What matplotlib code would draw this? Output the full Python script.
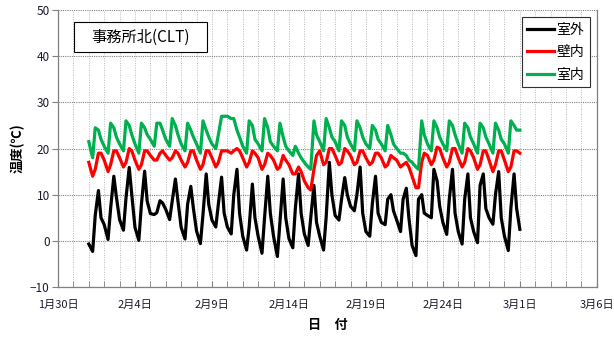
import matplotlib
matplotlib.use('Agg')
import matplotlib.pyplot as plt
from matplotlib.patches import Rectangle
import datetime as dt
import matplotlib.dates as mdates

plt.rcParams['font.family'] = ['Noto Sans CJK JP', 'DejaVu Sans']

# sample hours within each day
HOURS = [0, 6, 10, 15, 19]
START = dt.datetime(2019, 2, 1)

# outdoor temperature (室外), Feb 1 .. Feb 28, values at HOURS, then Mar 1 0h
outdoor = [
    [-0.7, -2.3, 5.5, 10.9, 5.0],
    [3.5, 0.3, 7.0, 14.0, 9.5],
    [4.6, 2.3, 9.3, 15.9, 10.0],
    [2.9, 0.1, 7.9, 15.1, 8.6],
    [5.9, 5.7, 6.1, 8.7, 8.2],
    [6.8, 4.6, 8.6, 13.4, 8.6],
    [2.9, 0.4, 7.9, 11.8, 7.1],
    [2.1, -0.6, 5.7, 14.5, 7.9],
    [4.5, 3.0, 8.0, 13.8, 6.0],
    [3.0, 1.5, 10.0, 15.5, 6.0],
    [1.0, -2.0, 3.0, 12.3, 5.0],
    [1.0, -2.7, 5.0, 14.0, 6.0],
    [1.0, -3.4, 4.0, 13.4, 5.0],
    [0.5, -1.5, 7.0, 14.5, 6.0],
    [1.5, -1.0, 5.0, 12.0, 4.0],
    [1.0, -2.0, 5.0, 17.0, 10.0],
    [5.5, 4.5, 9.0, 13.7, 10.0],
    [7.5, 6.5, 10.0, 16.0, 6.0],
    [2.0, 1.0, 8.0, 14.0, 6.0],
    [4.0, 3.5, 9.0, 10.0, 6.5],
    [4.5, 2.0, 9.0, 11.4, 5.0],
    [-1.0, -3.2, 9.0, 10.0, 6.0],
    [5.5, 5.0, 15.5, 13.0, 7.5],
    [4.0, 1.4, 9.0, 15.5, 6.0],
    [2.0, -0.7, 9.0, 14.5, 5.0],
    [2.0, -0.4, 12.0, 14.5, 7.0],
    [5.0, 3.6, 10.0, 15.0, 5.0],
    [1.0, -2.1, 7.0, 14.5, 7.0],
]
outdoor_end = 2.5

# wall temperature (壁内)
wall = [
    [17.0, 14.0, 15.5, 19.0, 19.0],
    [17.5, 15.0, 16.5, 19.5, 19.5],
    [18.0, 16.0, 17.0, 20.0, 19.5],
    [17.5, 15.5, 16.5, 19.5, 19.5],
    [18.5, 17.5, 17.5, 19.0, 19.5],
    [18.5, 17.5, 18.0, 19.5, 19.0],
    [17.5, 16.0, 17.0, 19.5, 19.5],
    [17.5, 15.5, 16.5, 19.5, 19.5],
    [18.0, 16.0, 17.0, 19.5, 19.5],
    [19.5, 19.0, 19.5, 20.0, 19.5],
    [18.0, 16.0, 17.0, 19.5, 19.0],
    [18.0, 15.5, 16.5, 19.0, 18.5],
    [17.5, 15.5, 16.0, 18.5, 17.5],
    [16.5, 14.5, 14.5, 16.0, 15.0],
    [13.0, 11.5, 11.0, 15.5, 18.5],
    [19.5, 16.5, 17.0, 20.0, 20.0],
    [18.5, 16.5, 17.0, 20.0, 19.5],
    [18.5, 16.5, 17.0, 19.5, 19.5],
    [18.0, 16.5, 17.0, 19.0, 19.0],
    [18.0, 16.0, 16.5, 18.5, 18.0],
    [17.5, 16.0, 16.5, 17.0, 16.0],
    [14.0, 11.5, 11.5, 17.0, 19.0],
    [18.5, 16.5, 17.5, 20.3, 20.0],
    [18.0, 16.0, 17.0, 20.0, 20.0],
    [18.0, 16.0, 17.0, 20.0, 19.5],
    [18.0, 15.5, 16.5, 19.5, 19.5],
    [17.5, 15.0, 16.5, 19.5, 19.5],
    [17.5, 15.0, 16.0, 19.5, 19.5],
]
wall_end = 19.0

# indoor temperature (室内)
indoor = [
    [21.5, 18.0, 24.5, 24.0, 22.0],
    [20.5, 19.0, 25.5, 24.5, 22.5],
    [21.0, 19.5, 26.0, 25.0, 23.0],
    [21.0, 19.0, 25.5, 24.5, 23.0],
    [22.0, 20.5, 25.5, 25.5, 24.0],
    [22.0, 20.5, 26.5, 25.0, 23.0],
    [21.0, 19.5, 25.5, 24.0, 22.5],
    [21.0, 19.0, 26.0, 24.0, 22.5],
    [21.0, 20.0, 23.0, 27.0, 27.0],
    [27.0, 26.5, 26.5, 24.0, 22.5],
    [20.5, 19.0, 26.0, 25.0, 22.0],
    [21.0, 19.5, 26.5, 24.5, 21.5],
    [20.5, 19.5, 25.5, 22.5, 20.5],
    [19.5, 18.5, 20.5, 19.0, 18.0],
    [17.0, 16.0, 15.5, 26.0, 23.0],
    [21.5, 19.5, 26.5, 24.5, 22.5],
    [21.5, 19.5, 26.0, 25.0, 22.5],
    [21.0, 19.5, 26.0, 24.5, 22.5],
    [21.0, 20.0, 25.0, 24.0, 22.0],
    [21.0, 19.5, 25.0, 23.0, 21.0],
    [20.0, 19.0, 19.0, 18.5, 17.5],
    [17.0, 16.0, 15.5, 26.0, 23.0],
    [21.0, 19.5, 26.0, 24.5, 22.5],
    [21.0, 19.5, 26.0, 25.0, 23.0],
    [21.0, 19.0, 25.5, 24.5, 22.5],
    [21.0, 19.0, 25.5, 24.5, 22.5],
    [21.0, 19.0, 25.5, 24.0, 22.0],
    [21.0, 19.0, 26.0, 25.0, 24.0],
]
indoor_end = 24.0

series_names = ['室外', '壁内', '室内']
series_colors = ['#000000', '#ff0000', '#00b050']

tick_dates = [dt.datetime(2019, 1, 30) + dt.timedelta(days=5 * i) for i in range(8)]
tick_labels = ['1月30日', '2月4日', '2月9日', '2月14日', '2月19日', '2月24日', '3月1日', '3月6日']
y_ticks = [-10, 0, 10, 20, 30, 40, 50]
title_text = '事務所北(CLT)'


def build(daily, end_value):
    times, vals = [], []
    for d, row in enumerate(daily):
        for h, v in zip(HOURS, row):
            times.append(START + dt.timedelta(days=d, hours=h))
            vals.append(v)
    times.append(START + dt.timedelta(days=len(daily)))
    vals.append(end_value)
    return times, vals


fig = plt.figure(figsize=(6.14, 3.38), dpi=100)
ax = fig.add_axes([0.0945, 0.151, 0.8775, 0.819])

for (daily, endv), name, col in zip([(outdoor, outdoor_end), (wall, wall_end), (indoor, indoor_end)],
                                   series_names, series_colors):
    t, v = build(daily, endv)
    ax.plot(t, v, color=col, lw=2.3, label=name, solid_joinstyle='round')

ax.set_xlim(tick_dates[0], tick_dates[-1])
ax.set_ylim(-10, 50)
ax.set_yticks(y_ticks)
ax.set_xticks(tick_dates)
ax.set_xticklabels(tick_labels)
ax.xaxis.set_minor_locator(mdates.DayLocator())

ax.grid(True, which='major', axis='y', color='#808080', linestyle=(0, (1, 1)), lw=0.8)
ax.grid(True, which='both', axis='x', color='#b8b8b8', linestyle=(0, (1, 1.5)), lw=0.7)
ax.set_axisbelow(True)

for side in ['left', 'right', 'bottom']:
    ax.spines[side].set_color('#808080')
    ax.spines[side].set_linewidth(0.9)
ax.spines['top'].set_visible(False)

ax.tick_params(axis='y', which='major', direction='out', length=4, color='#808080',
               labelsize=8.5, labelcolor='#1a1a2e', pad=2)
ax.tick_params(axis='x', which='major', direction='in', length=4, color='#808080',
               labelsize=8, labelcolor='#1a1a2e', pad=9)
ax.tick_params(axis='x', which='minor', direction='in', length=4, color='#808080')

ax.set_ylabel('温度(℃)', fontsize=9.5, fontweight='bold', labelpad=4)
ax.set_xlabel('日　付', fontsize=9.5, fontweight='bold', labelpad=6)

# title box
ax.add_patch(Rectangle((0.0297, 0.848), 0.2467, 0.109, transform=ax.transAxes,
                       fc='white', ec='black', lw=0.8, zorder=5))
ax.text(0.0297 + 0.2467 / 2, 0.848 + 0.109 / 2, title_text, transform=ax.transAxes,
        fontsize=11, va='center', ha='center', zorder=6)

leg = ax.legend(loc='upper right', bbox_to_anchor=(0.987, 0.975), borderaxespad=0,
                fontsize=10, handlelength=1.95, handletextpad=0.15, borderpad=0.4,
                labelspacing=0.62, fancybox=False, framealpha=1, edgecolor='#303030')
leg.get_frame().set_linewidth(0.8)
for line in leg.get_lines():
    line.set_linewidth(2.3)

fig.savefig('out.png', dpi=100)
